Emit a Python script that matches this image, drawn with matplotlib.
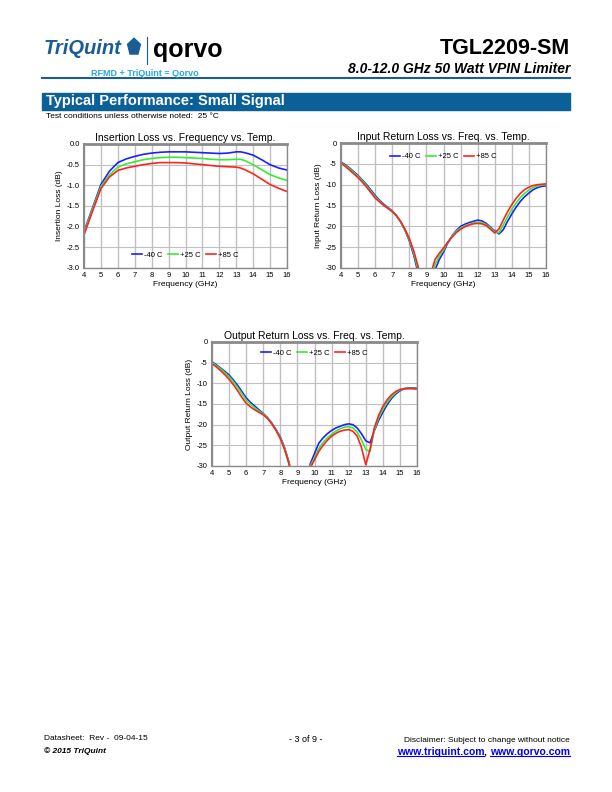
import numpy as np
import matplotlib
matplotlib.use("Agg")
import matplotlib.pyplot as plt
from matplotlib.patches import Rectangle, RegularPolygon
from matplotlib.lines import Line2D

plt.rcParams['font.family'] = ['Liberation Sans', 'DejaVu Sans']

# ---------------- data ----------------
temps = ['-40 C', '+25 C', '+85 C']
colors = ['#1f1fff', '#33ee33', '#ff2222']

il_freq = [4, 4.5, 5, 5.5, 6, 6.5, 7, 7.5, 8, 8.5, 9, 9.5, 10, 10.5, 11, 11.5,
           12, 12.5, 13, 13.25, 13.5, 14, 14.5, 15, 15.5, 16]
il_m40 = [-2.12, -1.55, -0.98, -0.66, -0.45, -0.36, -0.30, -0.25, -0.22, -0.20, -0.19, -0.19, -0.19,
          -0.20, -0.21, -0.22, -0.23, -0.22, -0.19, -0.19, -0.21, -0.27, -0.38, -0.50, -0.58, -0.63]
il_p25 = [-2.15, -1.58, -1.03, -0.75, -0.56, -0.48, -0.43, -0.38, -0.35, -0.33, -0.32, -0.32, -0.33,
          -0.34, -0.35, -0.37, -0.38, -0.38, -0.37, -0.37, -0.40, -0.50, -0.62, -0.74, -0.82, -0.88]
il_p85 = [-2.20, -1.63, -1.08, -0.80, -0.64, -0.58, -0.54, -0.50, -0.47, -0.45, -0.45, -0.45, -0.46,
          -0.48, -0.50, -0.52, -0.54, -0.55, -0.56, -0.58, -0.62, -0.72, -0.85, -0.98, -1.07, -1.15]

rl_freq = [4.0, 4.25, 4.5, 4.75, 5.0, 5.25, 5.5, 5.75, 6.0, 6.25, 6.5, 6.75, 7.0, 7.25, 7.5, 7.75,
           8.0, 8.25, 8.5, 8.75, 9.0, 9.25, 9.5, 9.75, 10.0, 10.25, 10.5, 10.75, 11.0, 11.25, 11.5,
           11.75, 12.0, 12.25, 12.5, 12.75, 13.0, 13.25, 13.5, 13.75, 14.0, 14.25, 14.5, 14.75,
           15.0, 15.25, 15.5, 15.75, 16.0]

irl_m40 = [-4.6, -5.2, -6.0, -6.9, -7.8, -8.9, -10.0, -11.3, -12.6, -13.7, -14.7, -15.5, -16.3, -17.4,
           -19.0, -21.0, -23.5, -26.8, -31.0, -36, -40, -36, -30.5, -28.0, -26.2, -24.0, -22.3, -21.0,
           -20.0, -19.5, -19.1, -18.8, -18.5, -18.7, -19.3, -20.2, -21.1, -21.8, -20.8, -18.8, -17.0,
           -15.4, -14.0, -12.9, -12.0, -11.2, -10.7, -10.4, -10.3]
irl_p25 = [-4.75, -5.4, -6.2, -7.1, -8.0, -9.1, -10.3, -11.6, -12.9, -13.9, -14.9, -15.6, -16.4, -17.5,
           -19.0, -20.9, -23.2, -26.3, -30.2, -35, -40, -34, -29.2, -27.2, -25.7, -23.8, -22.4, -21.2,
           -20.4, -19.9, -19.5, -19.2, -19.0, -19.1, -19.6, -20.4, -21.3, -21.5, -19.7, -17.7, -15.9,
           -14.4, -13.1, -12.1, -11.3, -10.7, -10.3, -10.1, -10.0]
irl_p85 = [-4.9, -5.6, -6.5, -7.4, -8.3, -9.4, -10.6, -11.9, -13.2, -14.1, -15.0, -15.7, -16.5, -17.5,
           -18.9, -20.7, -22.9, -25.8, -29.4, -34, -40, -31.5, -28.0, -26.5, -25.2, -23.8, -22.6, -21.5,
           -20.7, -20.1, -19.7, -19.4, -19.3, -19.4, -19.8, -20.7, -21.6, -20.6, -18.5, -16.5, -14.8,
           -13.3, -12.1, -11.2, -10.6, -10.2, -10.0, -9.9, -9.8]

orl_m40 = [-4.8, -5.5, -6.3, -7.1, -8.0, -9.2, -10.5, -12.0, -13.5, -14.6, -15.5, -16.4, -17.3, -18.3,
           -19.6, -21.2, -23.0, -25.6, -29.0, -34, -40, -40, -35, -29.5, -27.0, -24.5, -23.2, -22.2,
           -21.4, -20.8, -20.4, -20.0, -19.8, -20.0, -20.8, -22.2, -23.9, -24.4, -21.5, -19.0, -17.0,
           -15.2, -13.7, -12.6, -11.8, -11.3, -11.1, -11.1, -11.2]
orl_p25 = [-5.0, -5.7, -6.5, -7.4, -8.4, -9.6, -11.0, -12.5, -14.0, -15.0, -15.9, -16.7, -17.4, -18.4,
           -19.7, -21.3, -23.2, -25.8, -29.2, -34, -40, -40, -36, -30.0, -28.0, -25.8, -24.3, -23.2,
           -22.3, -21.6, -21.0, -20.6, -20.5, -20.8, -21.8, -23.7, -26.0, -26.5, -21.3, -18.4, -16.3,
           -14.6, -13.3, -12.3, -11.6, -11.3, -11.2, -11.2, -11.3]
orl_p85 = [-5.3, -6.0, -6.9, -7.9, -9.0, -10.3, -11.8, -13.4, -14.8, -15.7, -16.4, -17.0, -17.6, -18.5,
           -19.8, -21.4, -23.4, -26.0, -29.4, -34, -40, -40, -36, -30.5, -28.5, -26.5, -25.0, -23.8,
           -22.8, -22.1, -21.6, -21.3, -21.2, -21.6, -22.8, -25.5, -29.7, -26.0, -20.8, -17.8, -15.6,
           -14.0, -12.8, -12.0, -11.5, -11.3, -11.3, -11.3, -11.4]

freq_ticks = list(range(4, 17))
il_ticks = [0.0, -0.5, -1.0, -1.5, -2.0, -2.5, -3.0]
rl_ticks = [0, -5, -10, -15, -20, -25, -30]

W, H = 612, 792
fig = plt.figure(figsize=(W / 100, H / 100), dpi=100)


def fx(x):
    return x / W


def fy(y):
    return 1 - y / H


def make_ax(left, top, right, bottom):
    return fig.add_axes([fx(left), fy(bottom), (right - left) / W, (bottom - top) / H])


def style_chart(ax, title, ylabel, yticks, yfmt, legend_y):
    ax.set_xlim(4, 16)
    ax.set_ylim(yticks[-1], yticks[0])
    ax.set_xticks(freq_ticks)
    ax.set_yticks(yticks)
    ax.set_yticklabels([yfmt.format(v) for v in yticks])
    for f in freq_ticks:
        ax.axvline(f, color='#c0c0c0', lw=1.0, zorder=0)
    for v in yticks:
        ax.axhline(v, color='#c0c0c0', lw=0.8, zorder=0)
    ax.tick_params(length=0, labelsize=5.5, pad=3)
    for s in ax.spines.values():
        s.set_color('#8a8a8a')
        s.set_linewidth(1.0)
    ax.spines['top'].set_linewidth(2.0)
    ax.spines['left'].set_linewidth(1.5)
    ax.set_title(title, fontsize=7.5, pad=2)
    ax.set_xlabel('Frequency (GHz)', fontsize=6, labelpad=1)
    ax.set_ylabel(ylabel, fontsize=6, labelpad=3)
    ax.legend(loc='center', bbox_to_anchor=(0.5, legend_y), ncol=3, frameon=False,
              fontsize=5.5, handlelength=1.3, handletextpad=0.3, columnspacing=0.7)


# chart 1: insertion loss
ax1 = make_ax(84, 144, 287, 268)
for vals, c, t in zip([il_m40, il_p25, il_p85], colors, temps):
    ax1.plot(il_freq, vals, color=c, lw=1.2, label=t)
style_chart(ax1, 'Insertion Loss vs. Frequency vs. Temp.', 'Insertion Loss (dB)',
            il_ticks, '{:.1f}', 0.105)

# chart 2: input return loss
ax2 = make_ax(341, 143, 546, 268)
for vals, c, t in zip([irl_m40, irl_p25, irl_p85], colors, temps):
    ax2.plot(rl_freq, vals, color=c, lw=1.2, label=t)
style_chart(ax2, 'Input Return Loss vs. Freq. vs. Temp.', 'Input Return Loss (dB)',
            rl_ticks, '{:d}', 0.89)

# chart 3: output return loss
ax3 = make_ax(212, 342, 417, 466)
for vals, c, t in zip([orl_m40, orl_p25, orl_p85], colors, temps):
    ax3.plot(rl_freq, vals, color=c, lw=1.2, label=t)
style_chart(ax3, 'Output Return Loss vs. Freq. vs. Temp.', 'Output Return Loss (dB)',
            rl_ticks, '{:d}', 0.91)

# ---------------- header ----------------
blue = '#1a5c96'
fig.text(fx(44), fy(48), 'TriQuint', fontsize=14.5, fontweight='bold', fontstyle='italic',
         color=blue, va='center', ha='left')
fig.patches.append(RegularPolygon((fx(134), fy(47)), numVertices=5, radius=0.011,
                                  color=blue, transform=fig.transFigure, figure=fig))
fig.add_artist(Line2D([fx(147), fx(147)], [fy(37), fy(64)], color=blue, lw=0.8))
fig.text(fx(153), fy(50), 'qorvo', fontsize=18, fontweight='bold', color='black',
         va='center', ha='left')
fig.text(fx(91), fy(73), 'RFMD + TriQuint = Qorvo', fontsize=6.5, fontweight='bold',
         color='#2aa4e0', va='center', ha='left')
fig.text(fx(570), fy(48), 'TGL2209-SM', fontsize=15.5, fontweight='bold', color='black',
         va='center', ha='right')
fig.text(fx(570), fy(69), '8.0-12.0 GHz 50 Watt VPIN Limiter', fontsize=10, fontweight='bold',
         fontstyle='italic', color='black', va='center', ha='right')
fig.add_artist(Line2D([fx(42), fx(570)], [fy(78), fy(78)], color=blue, lw=1.5))
fig.patches.append(Rectangle((fx(42), fy(110)), (570 - 42) / W, 17 / H, color='#0b6097',
                             transform=fig.transFigure, figure=fig))
fig.text(fx(46), fy(101.5), 'Typical Performance: Small Signal', fontsize=10.5,
         fontweight='bold', color='white', va='center', ha='left')
fig.text(fx(46), fy(117), 'Test conditions unless otherwise noted:  25 \u00b0C', fontsize=6,
         va='center', ha='left')

# ---------------- footer ----------------
fig.text(fx(44), fy(739), 'Datasheet:  Rev -  09-04-15', fontsize=6, va='center', ha='left')
fig.text(fx(44), fy(751), '\u00a9 2015 TriQuint', fontsize=6, fontweight='bold',
         fontstyle='italic', va='center', ha='left')
fig.text(fx(306), fy(740), '- 3 of 9 -', fontsize=6.5, va='center', ha='center')
fig.text(fx(570), fy(740), 'Disclaimer: Subject to change without notice', fontsize=6,
         va='center', ha='right')

link_color = '#0000ee'
t_q = fig.text(fx(570), fy(752), 'www.qorvo.com', fontsize=7.5, fontweight='bold',
               color=link_color, va='center', ha='right')
fig.canvas.draw()
r = fig.canvas.get_renderer()
bq = t_q.get_window_extent(r)
t_c = fig.text(bq.x0 / W, fy(752), ', ', fontsize=7.5, fontweight='bold',
               color='black', va='center', ha='right')
bc = t_c.get_window_extent(r)
t_t = fig.text(bc.x0 / W, fy(752), 'www.triquint.com', fontsize=7.5, fontweight='bold',
               color=link_color, va='center', ha='right')
bt = t_t.get_window_extent(r)
for b in (bq, bt):
    fig.add_artist(Line2D([b.x0 / W, b.x1 / W], [b.y0 / H + 0.001, b.y0 / H + 0.001],
                          color=link_color, lw=0.8))

fig.savefig('out.png', dpi=100)
